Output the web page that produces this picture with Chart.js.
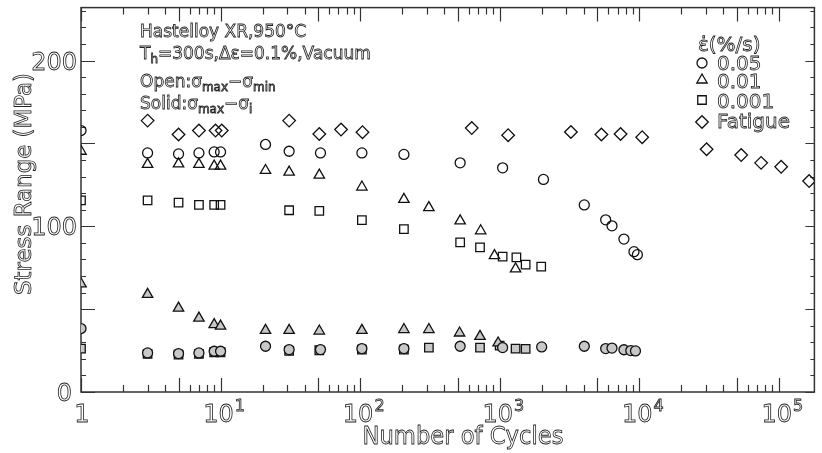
<!DOCTYPE html>
<html>
<head>
<meta charset="utf-8">
<script src="https://cdn.jsdelivr.net/npm/chart.js@4.4.1/dist/chart.umd.min.js"></script>
<style>
  html, body { margin: 0; padding: 0; background: #fff; }
</style>
</head>
<body>
<canvas id="c" width="822" height="453"></canvas>
<script>
// Stress range (MPa) against number of cycles, Hastelloy XR at 950 °C.
// Open symbols: sigma_max - sigma_min ; solid symbols: sigma_max - sigma_i.

// strain rate 0.05 %/s (circles)
const cycOpen005  = [1, 3, 5, 7, 9, 10, 21, 31, 52, 103, 206, 521, 1050, 2060, 4040, 5750, 6380, 7770, 9170, 9700];
const strOpen005  = [157.8, 144.3, 143.7, 144.3, 144.9, 144.9, 149.4, 145.3, 144.3, 144.3, 143.4, 138.3, 135.3, 128.3, 112.9, 103.9, 100.3, 92.3, 84.7, 82.9];
const cycSolid005 = [1, 3, 5, 7, 9, 10, 21, 31, 52, 103, 206, 521, 1050, 2000, 4040, 5750, 6380, 7770, 8700, 9400];
const strSolid005 = [38.3, 23.6, 23.2, 23.6, 24.6, 24.6, 27.6, 25.6, 25.6, 26.2, 26.2, 27.6, 26.8, 27.2, 27.6, 26.2, 26.5, 25.5, 25.0, 24.8];

// strain rate 0.01 %/s (triangles)
const cycOpen001  = [1, 3, 5, 7, 9, 10, 21, 31, 51, 103, 206, 311, 521, 731, 918, 1300];
const strOpen001  = [145.3, 137.4, 137.7, 137.4, 136.3, 136.3, 133.7, 132.7, 130.9, 123.7, 116.3, 111.3, 103.3, 97.3, 82.3, 74.3];
const cycSolid001 = [1, 3, 5, 7, 9, 10, 21, 31, 51, 103, 206, 311, 516, 723, 975];
const strSolid001 = [65.3, 58.9, 50.6, 44.6, 40.7, 39.8, 37.2, 37.2, 36.8, 37.2, 37.7, 37.7, 35.6, 33.6, 29.6];

// strain rate 0.001 %/s (squares)
const cycOpen0001  = [1, 3, 5, 7, 9, 10, 31, 51, 103, 206, 521, 723, 1050, 1318, 1535, 1985];
const strOpen0001  = [115.7, 115.7, 114.3, 112.9, 112.9, 112.9, 109.7, 109.3, 103.7, 98.3, 90.3, 87.3, 81.7, 81.3, 76.9, 75.7];
const cycSolid0001 = [1, 3, 5, 7, 9, 10, 31, 51, 103, 206, 311, 723, 1000, 1300, 1535];
const strSolid0001 = [26.2, 23.0, 22.6, 23.0, 24.0, 24.0, 24.8, 25.2, 25.6, 25.6, 26.8, 26.8, 28.0, 26.2, 26.0];

// fatigue (diamonds)
const cycFatigue = [3, 5, 7, 9.2, 10.2, 31, 51, 73, 104, 631, 1150, 3240, 5360, 7350, 10500, 30400, 53800, 74700, 104000, 165000];
const strFatigue = [163.8, 155.4, 157.8, 157.8, 157.8, 163.8, 155.7, 158.4, 156.8, 159.3, 155.0, 156.9, 155.4, 155.7, 153.8, 146.5, 143.0, 138.3, 135.9, 127.3];

// axis ticks and labels
const xDecades = [0, 1, 2, 3, 4, 5];
const yTickLabels = [0, 100, 200];
const legendLabels = ['0.05', '0.01', '0.001', 'Fatigue'];

const FONT = '"DejaVu Sans", sans-serif';
const INK = '#222';

function pts(xs, ys) { return xs.map((x, i) => ({ x: x, y: ys[i] })); }

function series(label, xs, ys, style, radius, solid) {
  const fill = solid ? '#c8c8c8' : 'rgba(0,0,0,0)';
  return {
    label: label,
    data: pts(xs, ys),
    showLine: false,
    pointStyle: style,
    pointRadius: radius,
    pointHoverRadius: radius,
    pointBorderWidth: 1.3,
    borderColor: '#111',
    pointBorderColor: '#111',
    backgroundColor: fill,
    pointBackgroundColor: fill
  };
}

// outlined lettering
function hollow(ctx, s, x, y, size, align) {
  ctx.font = size + 'px ' + FONT;
  ctx.textAlign = align || 'left';
  ctx.textBaseline = 'alphabetic';
  ctx.lineWidth = 0.8;
  ctx.strokeStyle = INK;
  ctx.strokeText(s, x, y);
}

// outlined lettering squeezed horizontally to a given width, centred on x
function hollowFit(ctx, s, x, y, size, width) {
  ctx.font = size + 'px ' + FONT;
  const w = ctx.measureText(s).width;
  const k = Math.min(1, width / w);
  ctx.save();
  ctx.translate(x, y);
  ctx.scale(k, 1);
  hollow(ctx, s, 0, 0, size, 'center');
  ctx.restore();
}

// text with subscript pieces: [[text, 'sub'|undefined], ...]
function rich(ctx, parts, x, y, size) {
  let cx = x;
  parts.forEach(p => {
    const sub = p[1] === 'sub';
    const sz = sub ? Math.round(size * 0.68) : size;
    const dy = sub ? size * 0.25 : 0;
    ctx.font = sz + 'px ' + FONT;
    hollow(ctx, p[0], cx, y + dy, sz, 'left');
    cx += ctx.measureText(p[0]).width;
  });
  return cx;
}

const axesPlugin = {
  id: 'fatigueAxes',
  beforeDatasetsDraw(chart) {
    const ctx = chart.ctx;
    const a = chart.chartArea;
    const xs = chart.scales.x, ys = chart.scales.y;
    ctx.save();
    ctx.strokeStyle = '#333';
    ctx.lineWidth = 1.5;
    ctx.strokeRect(a.left, a.top, a.right - a.left, a.bottom - a.top);

    // log ticks, bottom and top, pointing inwards
    ctx.lineWidth = 1.2;
    ctx.beginPath();
    xDecades.forEach(d => {
      for (let m = 1; m <= 9; m++) {
        const v = m * Math.pow(10, d);
        if (v > xs.max) continue;
        const px = Math.round(xs.getPixelForValue(v)) + 0.5;
        const len = (m === 1 || m === 5) ? 14 : 7;
        ctx.moveTo(px, a.bottom); ctx.lineTo(px, a.bottom - len);
        ctx.moveTo(px, a.top); ctx.lineTo(px, a.top + len);
      }
    });
    // linear ticks, left and right
    for (let v = 0; v <= ys.max; v += 10) {
      const py = Math.round(ys.getPixelForValue(v)) + 0.5;
      const big = v % 50 === 0;
      ctx.moveTo(a.left, py); ctx.lineTo(a.left + (big ? 14 : 5), py);
      ctx.moveTo(a.right, py); ctx.lineTo(a.right - (big ? 9 : 4), py);
    }
    ctx.stroke();
    ctx.restore();
  },
  afterDraw(chart) {
    const ctx = chart.ctx;
    const xs = chart.scales.x, ys = chart.scales.y;
    ctx.save();

    // y tick labels
    yTickLabels.forEach(v => {
      const py = ys.getPixelForValue(v);
      hollow(ctx, String(v), v === 0 ? 72 : 77, py + 9, 24, 'right');
    });

    // x tick labels: 1, 10^1 ... 10^5
    xDecades.forEach(d => {
      const px = xs.getPixelForValue(Math.pow(10, d));
      if (d === 0) {
        hollow(ctx, '1', px + 1, 422, 24, 'center');
      } else {
        ctx.font = '24px ' + FONT;
        const w = ctx.measureText('10').width;
        const left = px - 2 - w / 2;
        hollow(ctx, '10', left, 422, 24, 'left');
        hollow(ctx, String(d), left + w + 1, 411, 16, 'left');
      }
    });

    // axis titles
    hollowFit(ctx, 'Number of Cycles', 463, 444, 24, 201);
    ctx.save();
    ctx.translate(31, 184);
    ctx.rotate(-Math.PI / 2);
    hollowFit(ctx, 'Stress Range (MPa)', 0, 0, 23, 222);
    ctx.restore();

    // test conditions
    hollow(ctx, 'Hastelloy XR,950°C', 140, 37, 17, 'left');
    rich(ctx, [['T'], ['h', 'sub'], ['=300s,Δε=0.1%,Vacuum']], 140, 59, 17);
    rich(ctx, [['Open:σ'], ['max', 'sub'], ['−σ'], ['min', 'sub']], 140, 87, 17);
    rich(ctx, [['Solid:σ'], ['max', 'sub'], ['−σ'], ['i', 'sub']], 140, 109, 17);

    // legend
    hollow(ctx, 'ε\u0307(%/s)', 698, 51, 20, 'left');
    const styles = [['circle', 5], ['triangle', 6], ['rect', 6], ['rectRot', 6.3]];
    const rows = [63, 80, 100, 122];
    const bases = [70, 88, 108, 128];
    legendLabels.forEach((lab, i) => {
      ctx.save();
      ctx.strokeStyle = '#111';
      ctx.fillStyle = 'rgba(0,0,0,0)';
      ctx.lineWidth = 1.3;
      Chart.helpers.drawPoint(ctx, { pointStyle: styles[i][0], radius: styles[i][1], rotation: 0, borderWidth: 1.3 }, 702, rows[i]);
      ctx.restore();
      hollow(ctx, lab, 717, bases[i], 20, 'left');
    });
    ctx.restore();
  }
};

new Chart(document.getElementById('c'), {
  type: 'scatter',
  data: {
    datasets: [
      series('0.05', cycOpen005, strOpen005, 'circle', 5, false),
      series('0.01', cycOpen001, strOpen001, 'triangle', 6, false),
      series('0.001', cycOpen0001, strOpen0001, 'rect', 6, false),
      series('Fatigue', cycFatigue, strFatigue, 'rectRot', 6.3, false),
      series('0.05 (σmax−σi)', cycSolid005, strSolid005, 'circle', 5, true),
      series('0.01 (σmax−σi)', cycSolid001, strSolid001, 'triangle', 6, true),
      series('0.001 (σmax−σi)', cycSolid0001, strSolid0001, 'rect', 6, true)
    ]
  },
  options: {
    responsive: false,
    devicePixelRatio: 1,
    animation: false,
    layout: { padding: { left: 81, right: 1, top: 6, bottom: 61 } },
    plugins: { legend: { display: false }, tooltip: { enabled: false }, title: { display: false } },
    scales: {
      x: { type: 'logarithmic', min: 1, max: 1.8e5, display: false },
      y: { type: 'linear', min: 0, max: 232, display: false }
    }
  },
  plugins: [axesPlugin]
});
</script>
</body>
</html>
